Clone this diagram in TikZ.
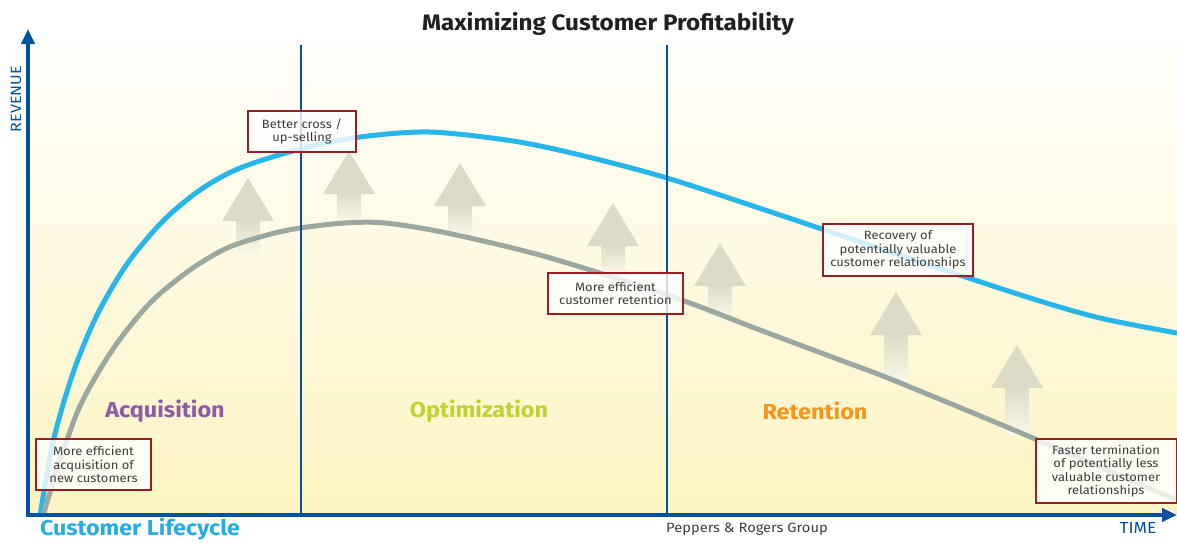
\documentclass[tikz,border=0pt]{standalone}
\usepackage{fontspec}
\setmainfont[FakeStretch=1.08]{Fira Sans}
\usetikzlibrary{arrows.meta}
\definecolor{axisblue}{RGB}{0,82,160}
\definecolor{curveblue}{RGB}{38,182,234}
\definecolor{curvegrey}{RGB}{155,168,160}
\definecolor{arrowc}{RGB}{220,220,198}
\definecolor{arrowbot}{RGB}{250,247,230}
\definecolor{boxred}{RGB}{155,30,35}
\definecolor{bgyellow}{RGB}{253,244,194}
\definecolor{txtgrey}{RGB}{60,60,60}
\definecolor{titlec}{RGB}{35,31,32}
\definecolor{acqpurple}{RGB}{140,90,168}
\definecolor{optgreen}{RGB}{190,210,50}
\definecolor{retorange}{RGB}{247,148,30}
\definecolor{lifeblue}{RGB}{41,171,226}
\newcommand{\growarrow}[3]{%
  \shade[top color=arrowc, middle color=arrowc!80!arrowbot, bottom color=arrowbot] (#1-12,#2+42) rectangle (#1+12,#3);
  \fill[arrowc] (#1-26,#2+43) -- (#1,#2) -- (#1+26,#2+43) -- cycle;
}
\begin{document}
\begin{tikzpicture}[x=1pt,y=-1pt,
  note/.style={draw=boxred, line width=2pt, fill=white, fill opacity=0.8, text opacity=1,
    text=txtgrey, align=center, inner sep=0pt, font=\fontsize{12}{13.4}\selectfont},
  axisline/.style={draw=axisblue, line width=4.5pt, -{Triangle[length=15pt,width=13pt]}},
  divider/.style={draw=axisblue, line width=2.6pt},
  curve/.style={line width=5pt},
  phase/.style={font=\fontsize{21.7}{25}\selectfont\bfseries}]
\useasboundingbox (0,0) rectangle (1177,542);
% background
\shade[top color=white, bottom color=bgyellow] (28,15) rectangle (1177,515);
% growth arrows
\growarrow{248}{178}{252}
\growarrow{349}{151}{222}
\growarrow{460}{163}{235}
\growarrow{613}{203}{274}
\growarrow{720}{243}{318}
\growarrow{896}{292}{382}
\growarrow{1017}{345}{435}
% curves
\draw[curveblue, curve] plot[smooth, tension=0.5] coordinates {(40,516) (53,442) (73,373) (97,315) (127,264) (163,221) (200,190) (240,168) (300,149) (360,137) (430,132) (513,141) (580,155) (667,178) (780,215) (893,253) (1027,297) (1100,318) (1177,333)};
\draw[curvegrey, curve] plot[smooth, tension=0.5] coordinates {(43,516) (57,470) (80,406) (113,349) (150,303) (190,270) (227,248) (267,235) (300,228) (345,223) (385,223) (447,233) (547,257) (673,297) (760,330) (840,360) (893,380) (1033,438) (1177,500)};
% dividers
\coordinate (d1t) at (301,45); \coordinate (d1b) at (301,515);
\coordinate (d2t) at (667,45); \coordinate (d2b) at (667,515);
\draw[divider] (d1t) -- (d1b);
\draw[divider] (d2t) -- (d2b);
% axes
\coordinate (o) at (28,517);
\coordinate (ytop) at (28,29);
\coordinate (xo) at (26,515);
\coordinate (xend) at (1177,515);
\draw[axisline] (o) -- (ytop);
\draw[axisline] (xo) -- (xend);
% notes
\node[note, minimum width=108pt, minimum height=41pt] (n1) at (302,131.5) {Better cross /\\up-selling};
\node[note, minimum width=115pt, minimum height=51pt] (n2) at (93.5,464.5) {More efficient\\acquisition of\\new customers};
\node[note, minimum width=135pt, minimum height=41pt] (n3) at (615.5,293.5) {More efficient\\customer retention};
\node[note, minimum width=150pt, minimum height=52pt] (n4) at (898,250) {Recovery of\\potentially valuable\\customer relationships};
\node[note, minimum width=141pt, minimum height=64pt] (n5) at (1106,471) {Faster termination\\of potentially less\\valuable customer\\relationships};
% labels
\node[text=titlec, font=\fontsize{22.4}{26}\selectfont\bfseries] (title) at (608,24) {Maximizing Customer Profitability};
\node[phase, text=acqpurple] (acq) at (165,411) {Acquisition};
\node[phase, text=optgreen] (opt) at (479,411) {Optimization};
\node[phase, text=retorange] (ret) at (815,411) {Retention};
\node[text=lifeblue, font=\fontsize{21.5}{25}\selectfont\bfseries, inner sep=1pt] (life) at (140,529) {Customer Lifecycle};
\node[text=axisblue, rotate=90, font=\fontsize{14.9}{17}\selectfont] (rev) at (16,99) {REVENUE};
\node[text=axisblue, font=\fontsize{16}{18}\selectfont] (time) at (1138,528) {TIME};
\node[text=txtgrey, font=\fontsize{13.6}{16}\selectfont] (src) at (747,529) {Peppers \& Rogers Group};
\end{tikzpicture}
\end{document}
